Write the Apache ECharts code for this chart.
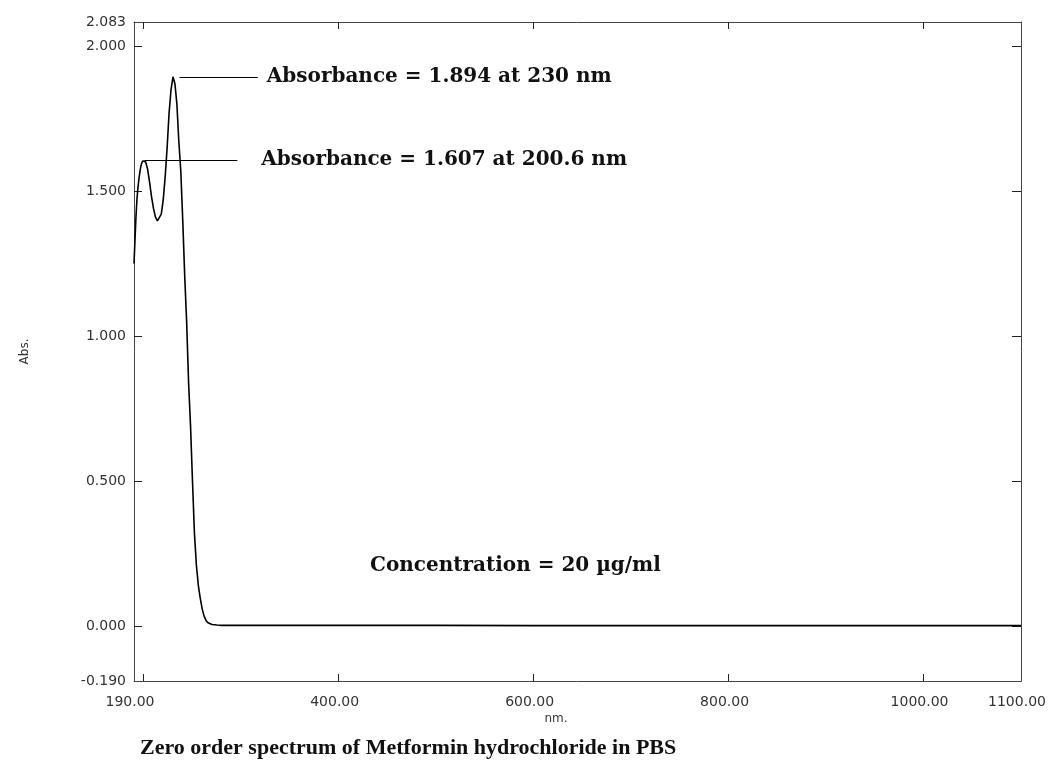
<!DOCTYPE html>
<html>
<head>
<meta charset="utf-8">
<script src="https://cdn.jsdelivr.net/npm/echarts@6/dist/echarts.min.js"></script>
<style>
  html, body { margin: 0; padding: 0; background: #fff; }
  #chart { width: 1057px; height: 768px; }
</style>
</head>
<body>
<div id="chart"></div>
<script>
// wavelength (nm) and absorbance
const wavelengths = [190, 191, 192, 193, 194, 195, 196, 197, 198, 199, 200.6, 202, 204, 206, 208, 210, 212, 214, 216, 218, 220, 222, 224, 226, 228, 230, 232, 234, 236, 238, 240, 242, 244, 246, 248, 250, 252, 254, 256, 258, 260, 262, 264, 266, 268, 270, 275, 280, 300, 350, 400, 450, 500, 600, 700, 800, 900, 1000, 1100]
const absorbance = [1.25, 1.33, 1.41, 1.47, 1.51, 1.54, 1.565, 1.585, 1.597, 1.604, 1.607, 1.6, 1.575, 1.53, 1.48, 1.44, 1.41, 1.397, 1.396, 1.42, 1.47, 1.55, 1.65, 1.77, 1.85, 1.894, 1.87, 1.8, 1.67, 1.57, 1.4, 1.21, 1.05, 0.84, 0.69, 0.5, 0.32, 0.21, 0.14, 0.095, 0.058, 0.033, 0.018, 0.011, 0.007, 0.005, 0.003, 0.002, 0.002, 0.002, 0.002, 0.002, 0.002, 0.001, 0.001, 0.001, 0.001, 0.001, 0.001]

const xTickValues = [200, 400, 600, 800, 1000]
const xLabelValues = [190, 400, 600, 800, 1000, 1100]
const yTickValues = [0, 0.5, 1, 1.5, 2]
const yLabelValues = [-0.19, 0, 0.5, 1, 1.5, 2, 2.083]

const peaks = [
  { nm: 230, abs: 1.894, lineFrom: 236.7, lineTo: 317, text: 'Absorbance = 1.894 at 230 nm', gap: 9 },
  { nm: 200.6, abs: 1.607, lineFrom: 200.6, lineTo: 296, text: 'Absorbance = 1.607 at 200.6 nm', gap: 24 },
]

const frame = '#444'
const tickFont = { fontFamily: 'DejaVu Sans', fontSize: 14, color: '#333' }
const noteFont = 'bold 20px "DejaVu Serif"'

const chart = echarts.init(document.getElementById('chart'))
chart.setOption({
  animation: false,
  backgroundColor: '#fff',
  grid: { left: 134, right: 36, top: 22, bottom: 87 },
  xAxis: [
    {
      type: 'value',
      min: 190,
      max: 1100,
      axisLine: { show: true, onZero: false, lineStyle: { color: frame, width: 1 } },
      axisTick: { show: true, inside: true, length: 7, customValues: xTickValues, lineStyle: { color: '#222' } },
      axisLabel: {
        ...tickFont,
        margin: 14,
        padding: [0, 8, 0, 0],
        customValues: xLabelValues,
        formatter: (v) => v.toFixed(2),
      },
      splitLine: { show: false },
    },
    {
      type: 'value',
      position: 'top',
      min: 190,
      max: 1100,
      axisLine: { show: true, onZero: false, lineStyle: { color: frame, width: 1 } },
      axisTick: { show: true, inside: true, length: 7, customValues: xTickValues, lineStyle: { color: '#222' } },
      axisLabel: { show: false },
      splitLine: { show: false },
    },
  ],
  yAxis: [
    {
      type: 'value',
      min: -0.19,
      max: 2.083,
      name: 'Abs.',
      nameLocation: 'middle',
      nameGap: 103,
      nameRotate: 90,
      nameTextStyle: { fontFamily: 'DejaVu Sans', fontSize: 12, color: '#333' },
      axisLine: { show: true, onZero: false, lineStyle: { color: frame, width: 1 } },
      axisTick: { show: true, inside: true, length: 8, customValues: yTickValues, lineStyle: { color: '#222' } },
      axisLabel: {
        ...tickFont,
        margin: 8,
        customValues: yLabelValues,
        formatter: (v) => v.toFixed(3),
      },
      splitLine: { show: false },
    },
    {
      type: 'value',
      position: 'right',
      min: -0.19,
      max: 2.083,
      axisLine: { show: true, onZero: false, lineStyle: { color: frame, width: 1 } },
      axisTick: { show: true, inside: true, length: 9, customValues: yTickValues, lineStyle: { color: '#222' } },
      axisLabel: { show: false },
      splitLine: { show: false },
    },
  ],
  series: [
    {
      type: 'line',
      data: wavelengths.map((w, i) => [w, absorbance[i]]),
      showSymbol: false,
      smooth: false,
      lineStyle: { color: '#000', width: 1.6 },
      silent: true,
      markLine: {
        silent: true,
        symbol: ['none', 'none'],
        lineStyle: { color: '#000', width: 1, type: 'solid' },
        emphasis: { disabled: true },
        data: peaks.map((p) => [
          { coord: [p.lineFrom, p.abs] },
          {
            coord: [p.lineTo, p.abs],
            label: {
              show: true,
              position: 'end',
              distance: p.gap,
              formatter: p.text,
              fontFamily: 'DejaVu Serif',
              fontWeight: 'bold',
              fontSize: 20,
              color: '#111',
            },
          },
        ]),
      },
    },
  ],
  graphic: [
    {
      type: 'text',
      x: 370,
      y: 566,
      style: { text: 'Concentration = 20 µg/ml', font: noteFont, fill: '#111', verticalAlign: 'middle' },
    },
    {
      type: 'text',
      x: 556,
      y: 719,
      style: { text: 'nm.', font: '12px "DejaVu Sans"', fill: '#333', align: 'center', verticalAlign: 'middle' },
    },
    {
      type: 'text',
      x: 140,
      y: 748,
      style: {
        text: 'Zero order spectrum of Metformin hydrochloride in PBS',
        font: 'bold 22px "Liberation Serif"',
        fill: '#111',
        verticalAlign: 'middle',
      },
    },
  ],
})
</script>
</body>
</html>
